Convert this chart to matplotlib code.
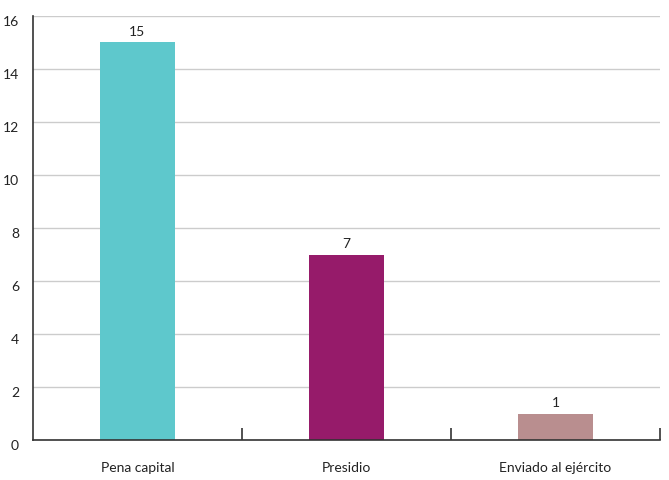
import numpy as np
import matplotlib.pyplot as plt
from matplotlib.transforms import ScaledTranslation

categories = ["Pena capital", "Presidio", "Enviado al ejército"]
values = [15, 7, 1]
colors = ["#5EC8CC", "#961B6A", "#B98E8F"]
y_ticks = [0, 2, 4, 6, 8, 10, 12, 14, 16]

plt.rcParams['font.family'] = ['Lato', 'DejaVu Sans']

fig = plt.figure(figsize=(6.69, 4.8), dpi=100)
ax = fig.add_axes([0.0493, 0.0833, 0.9372, 0.8834])

x = np.arange(len(categories))
bars = ax.bar(x, values, width=0.36, color=colors, zorder=2)
for xi, v in zip(x, values):
    ax.annotate(str(v), (xi, v), xytext=(0, 3), textcoords="offset points",
                ha='center', va='bottom', fontsize=10, color='#222222')

ax.set_xlim(-0.5, 2.5)
ax.set_ylim(0, 16)
ax.set_yticks(y_ticks)
ax.set_yticklabels([str(t) for t in y_ticks], fontsize=10, color='#222222')
for lbl in ax.get_yticklabels():
    lbl.set_va('top')
    lbl.set_transform(lbl.get_transform() + ScaledTranslation(0, -0.02, fig.dpi_scale_trans))
ax.tick_params(axis='y', length=0, pad=10)

ax.set_xticks([0.5, 1.5, 2.5])
ax.set_xticklabels([])
ax.tick_params(axis='x', direction='in', length=9, width=1.2, color='#333333')
ax.set_xticks(x, minor=True)
ax.set_xticklabels(categories, minor=True, fontsize=10, color='#222222')
ax.tick_params(axis='x', which='minor', length=0, pad=16)

ax.grid(True, axis='y', color='#cccccc', linewidth=1, zorder=0)
ax.set_axisbelow(True)
for s in ['top', 'right']:
    ax.spines[s].set_visible(False)
ax.spines['left'].set_color('#333333')
ax.spines['bottom'].set_color('#333333')
ax.spines['left'].set_linewidth(1.2)
ax.spines['bottom'].set_linewidth(1.2)

plt.savefig("out.png", dpi=100)
plt.close()
